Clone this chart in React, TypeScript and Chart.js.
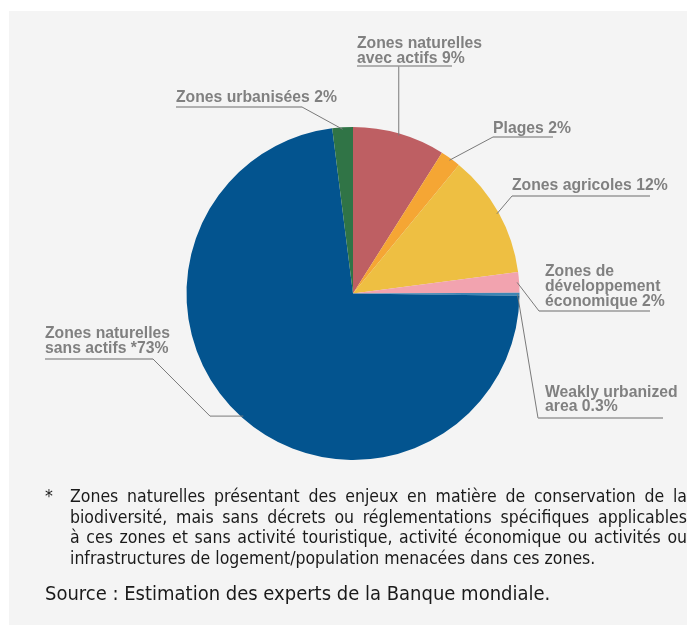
import React, { useEffect, useRef } from "react";
import { Chart, registerables } from "chart.js";

Chart.register(...registerables);

// ---- data ----
const categories = [
  "Zones naturelles avec actifs",
  "Plages",
  "Zones agricoles",
  "Zones de développement économique",
  "Weakly urbanized area",
  "Zones naturelles sans actifs",
  "Zones urbanisées",
];
const shares = [9, 2, 12, 2, 0.3, 73, 2];
const sliceColors = ["#BE5F63", "#F5A634", "#EEBF42", "#F2A3AF", "#3E86B4", "#03548F", "#307446"];
const labelTexts = [
  ["Zones naturelles", "avec actifs 9%"],
  ["Plages 2%"],
  ["Zones agricoles 12%"],
  ["Zones de", "développement", "économique 2%"],
  ["Weakly urbanized", "area 0.3%"],
  ["Zones naturelles", "sans actifs *73%"],
  ["Zones urbanisées 2%"],
];
const footnoteLines = [
  "Zones naturelles présentant des enjeux en matière de conservation de la",
  "biodiversité, mais sans décrets ou réglementations spécifiques applicables",
  "à ces zones et sans activité touristique, activité économique ou activités ou",
  "infrastructures de logement/population menacées dans ces zones.",
];
const sourceText = "Source : Estimation des experts de la Banque mondiale.";

// ---- label layout (positions only) ----
type Lay = { x: number; ys: number[]; ul: [number, number, number]; join: [number, number] | null; elbowX?: number };
const labelLayout: Lay[] = [
  { x: 357, ys: [43, 58], ul: [357, 452, 66], join: null },
  { x: 493, ys: [128], ul: [493, 553, 137], join: [493, 137] },
  { x: 512, ys: [185], ul: [512, 650, 196], join: [512, 196] },
  { x: 545, ys: [271, 286, 301], ul: [539, 650, 311], join: [539, 311] },
  { x: 545, ys: [392, 406], ul: [538, 663, 418], join: [538, 418] },
  { x: 45, ys: [333, 348], ul: [45, 153, 359], join: [153, 359], elbowX: 210 },
  { x: 176, ys: [97], ul: [176, 302, 107], join: [302, 107] },
];

const LABEL_FONT = 'bold 17px "Liberation Sans", Arial, sans-serif';
const LABEL_SAMPLE = "Zones urbanisées 2%";
const LABEL_SAMPLE_WIDTH = 161; // condensed look of the original labels
const TEXT_FONT = '"Liberation Sans Narrow", "DejaVu Sans Condensed", "Roboto", sans-serif';

const panelPlugin = {
  id: "panel",
  beforeDraw(chart: any) {
    const ctx = chart.ctx;
    ctx.save();
    ctx.fillStyle = "#FFFFFF";
    ctx.fillRect(0, 0, chart.width, chart.height);
    ctx.fillStyle = "#F4F4F4";
    ctx.fillRect(9, 11, chart.width - 9, chart.height - 11);
    ctx.restore();
  },
};

const labelPlugin = {
  id: "calloutLabels",
  afterDatasetsDraw(chart: any) {
    const ctx = chart.ctx;
    const meta = chart.getDatasetMeta(0);
    ctx.save();
    ctx.font = LABEL_FONT;
    const sx = LABEL_SAMPLE_WIDTH / ctx.measureText(LABEL_SAMPLE).width;
    meta.data.forEach((arc: any, i: number) => {
      const lay = labelLayout[i];
      if (!lay) return;
      const p = arc.getProps(["x", "y", "startAngle", "endAngle", "outerRadius"], true);
      const mid = (p.startAngle + p.endAngle) / 2;
      const r = p.outerRadius - 2;
      const ax = p.x + Math.cos(mid) * r;
      const ay = p.y + Math.sin(mid) * r;
      // leader line
      ctx.strokeStyle = "#7A7A7A";
      ctx.lineWidth = 1;
      ctx.beginPath();
      ctx.moveTo(ax, ay);
      if (lay.elbowX !== undefined) ctx.lineTo(lay.elbowX, ay);
      if (lay.join) ctx.lineTo(lay.join[0], lay.join[1]);
      else ctx.lineTo(ax, lay.ul[2]);
      ctx.stroke();
      // underline
      ctx.strokeStyle = "#9A9A9A";
      ctx.lineWidth = 1.5;
      ctx.beginPath();
      ctx.moveTo(lay.ul[0], lay.ul[2]);
      ctx.lineTo(lay.ul[1], lay.ul[2]);
      ctx.stroke();
      // text (horizontally condensed)
      ctx.fillStyle = "#808080";
      ctx.font = LABEL_FONT;
      ctx.textBaseline = "middle";
      ctx.textAlign = "left";
      labelTexts[i].forEach((t, j) => {
        ctx.save();
        ctx.translate(lay.x, lay.ys[j]);
        ctx.scale(sx, 1);
        ctx.fillText(t, 0, 0);
        ctx.restore();
      });
    });
    ctx.restore();
  },
};

export default function App() {
  const ref = useRef<HTMLCanvasElement | null>(null);
  useEffect(() => {
    if (!ref.current) return;
    const chart = new Chart(ref.current, {
      type: "pie",
      data: {
        labels: categories,
        datasets: [
          {
            data: shares,
            backgroundColor: sliceColors,
            borderWidth: 0,
          },
        ],
      },
      options: {
        responsive: false,
        animation: false,
        layout: { padding: { left: 186, right: 167, top: 127, bottom: 165 } },
        plugins: { legend: { display: false }, tooltip: { enabled: false } },
      },
      plugins: [panelPlugin, labelPlugin],
    });
    return () => chart.destroy();
  }, []);

  return (
    <div style={{ position: "absolute", left: 0, top: 0, width: 687, height: 625, overflow: "hidden" }}>
      <canvas ref={ref} width={687} height={625} style={{ position: "absolute", left: 0, top: 0 }} />
      <div style={{ position: "absolute", left: 45, top: 486, width: 642, fontFamily: TEXT_FONT, fontSize: 17.5, color: "#1A1A1A", lineHeight: "20.7px" }}>
        <span style={{ position: "absolute", left: 0, top: 0 }}>*</span>
        {footnoteLines.map((l, i) => (
          <div key={i} style={{ marginLeft: 25, textAlign: i < 3 ? "justify" : "left", textAlignLast: i < 3 ? "justify" : "left", whiteSpace: "nowrap" as any }}>
            {l}
          </div>
        ))}
      </div>
      <div style={{ position: "absolute", left: 45, top: 581, fontFamily: TEXT_FONT, fontSize: 20, color: "#1A1A1A", whiteSpace: "nowrap" }}>
        {sourceText}
      </div>
    </div>
  );
}
